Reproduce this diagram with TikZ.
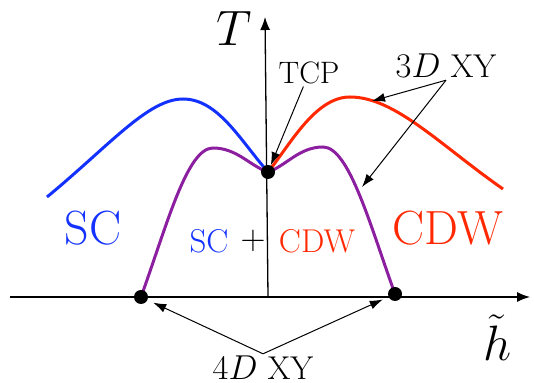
\documentclass[tikz,border=0pt]{standalone}
\usetikzlibrary{arrows.meta}
\definecolor{scblue}{RGB}{20,50,255}
\definecolor{cdwred}{RGB}{255,40,0}
\definecolor{mixpurple}{RGB}{140,30,160}
\begin{document}
\begin{tikzpicture}[x=0.5pt,y=-0.5pt,
  dot/.style={circle,fill=black,inner sep=0pt,minimum size=7pt},
  curve/.style={line width=1.5pt},
  axis/.style={line width=0.65pt,-{Latex[length=6.5pt,width=5pt]}},
  pointer/.style={line width=0.5pt,-{Latex[length=6.5pt,width=4.5pt]}},
  lbl/.style={inner sep=1pt},
  big/.style={font=\fontsize{24}{28}\selectfont},
  mid/.style={font=\fontsize{16.5}{20}\selectfont},
  small/.style={font=\fontsize{15.5}{19}\selectfont}]
\useasboundingbox (0,0) rectangle (534,383);
% axes
\coordinate (xs) at (10,297);
\coordinate (xe) at (530,297);
\coordinate (ys) at (268,297);
\coordinate (ye) at (265,17);
\draw[axis] (xs) -- (xe);
\draw[axis] (ys) -- (ye);
% curves
\draw[curve,scblue] (47,197) .. controls (110,145) and (148,99) .. (183,99)
  .. controls (218,99) and (240,140) .. (268,172);
\draw[curve,cdwred] (268,172) .. controls (290,145) and (315,97) .. (350,97)
  .. controls (395,97) and (440,145) .. (503,189);
\draw[curve,mixpurple] (141,297) .. controls (167,225) and (187,148) .. (213,148)
  .. controls (237,148) and (250,166) .. (268,172)
  .. controls (286,166) and (299,147) .. (323,147)
  .. controls (349,147) and (370,225) .. (395,294);
% points
\node[dot] (tcp) at (268,172) {};
\node[dot] (ld) at (141,297) {};
\node[dot] (rd) at (395,294) {};
\coordinate (redpt) at (372,101);
\coordinate (purpt) at (362,187);
% labels
\node[lbl,big] (tlab) at (234,29) {$T$};
\node[lbl,big] (hlab) at (498,338) {$\tilde h$};
\node[lbl,small] (tcpl) at (309,73) {TCP};
\node[lbl,mid] (xy4) at (263,368) {$4D$ XY};
\node[lbl,mid] (xy3) at (446,66) {$3D$ XY};
\node[lbl,big,scblue] (sc) at (93,228) {SC};
\node[lbl,big,cdwred] (cdw) at (448,228) {CDW};
\node[lbl,mid,scblue] (sc2) at (209,241) {SC};
\node[lbl,mid] (plus) at (253,241) {$+$};
\node[lbl,mid,cdwred] (cdw2) at (317,241) {CDW};
% pointers
\draw[pointer] (tcpl) -- (tcp);
\draw[pointer] (xy3.south) -- (redpt);
\draw[pointer] (xy3.south) -- (purpt);
\draw[pointer,shorten >=3pt] (xy4.north) -- (ld);
\draw[pointer,shorten >=3pt] (xy4.north) -- (rd);
\end{tikzpicture}
\end{document}
